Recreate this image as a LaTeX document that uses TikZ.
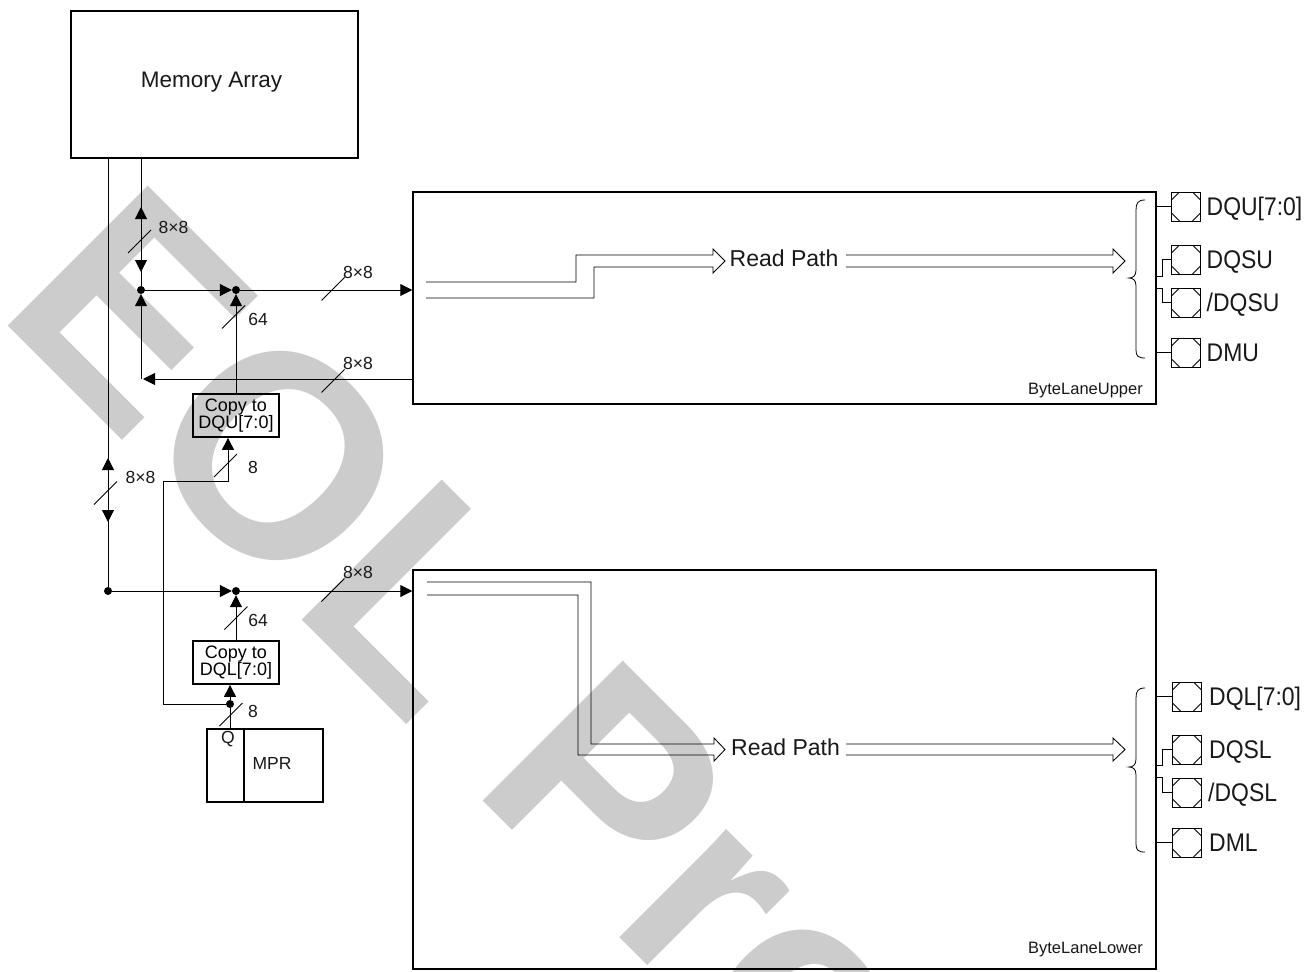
\documentclass[tikz,border=0pt]{standalone}
\usepackage{fontspec}
\setmainfont{Liberation Sans}
\newfontfamily\padfont{Liberation Sans}[FakeStretch=0.9]
\usetikzlibrary{arrows.meta}
\definecolor{wmgray}{RGB}{204,204,204}
\definecolor{ink}{RGB}{25,25,25}
\tikzset{
  box/.style={draw, line width=1.5pt, inner sep=0pt},
  cbox/.style={draw, line width=1.8pt, inner sep=0pt, minimum width=86pt, minimum height=43pt, align=center, font=\fontsize{18}{17.5}\selectfont},
  wire/.style={line width=1pt},
  thinw/.style={line width=0.9pt},
  tri/.style={line width=1pt, -{Triangle[length=12pt,width=12pt]}},
  slash/.style={line width=0.8pt},
  lbl/.style={inner sep=0pt, text=ink, font=\fontsize{17.5}{18}\selectfont},
  small/.style={inner sep=0pt, text=ink, font=\fontsize{16.5}{18}\selectfont},
  txt/.style={inner sep=0pt, text=ink, font=\fontsize{22.5}{24}\selectfont},
  rpt/.style={inner sep=0pt, text=ink, font=\fontsize{23}{24}\selectfont},
  padlbl/.style={inner sep=0pt, anchor=base west, text=ink, font=\padfont\fontsize{25.5}{26}\selectfont},
  rp/.style={line width=0.85pt},
  dot/.style={circle, fill, inner sep=0pt, minimum size=8pt},
  wm/.style={anchor=base west, inner sep=0pt, rotate=-45, text=wmgray, font=\fontsize{288}{300}\selectfont\bfseries},
  pad/.style={draw, line width=1pt, minimum width=29pt, minimum height=29pt, inner sep=0pt,
    path picture={\draw[line width=0.9pt]
      ([xshift=8pt]path picture bounding box.north west) -- ([yshift=-8pt]path picture bounding box.north west)
      ([xshift=-8pt]path picture bounding box.north east) -- ([yshift=-8pt]path picture bounding box.north east)
      ([xshift=8pt]path picture bounding box.south west) -- ([yshift=8pt]path picture bounding box.south west)
      ([xshift=-8pt]path picture bounding box.south east) -- ([yshift=8pt]path picture bounding box.south east);}},
}
\begin{document}
\begin{tikzpicture}[x=1pt,y=-1pt]
\useasboundingbox (0,0) rectangle (1308,971);
\clip (0,0) rectangle (1308,971);
\fill[white] (0,0) rectangle (1308,971);
% watermark
\node[wm] (wm) at (-6,312) {EOL Pro};

% boxes
\node[box, minimum width=287pt, minimum height=147pt] (ma) at (214.5,84.5) {};
\node[txt, anchor=base] (matxt) at (211.5,88) {Memory Array};
\node[box, minimum width=743pt, minimum height=212pt] (ublk) at (784.5,298) {};
\node[box, minimum width=743pt, minimum height=399pt] (lblk) at (784.5,769.5) {};
\node[small, anchor=base east] (ulab) at (1143,394) {ByteLaneUpper};
\node[small, anchor=base east] (llab) at (1143,953) {ByteLaneLower};
\node[cbox] (cu) at (236,415.5) {Copy to\\DQU[7:0]};
\node[cbox] (cl) at (236,662.5) {Copy to\\DQL[7:0]};
\node[box, line width=1.3pt, minimum width=116pt, minimum height=73pt] (mpr) at (265,765.5) {};
\draw[line width=1.1pt] ([xshift=-21pt]mpr.north) -- ([xshift=-21pt]mpr.south);
\node[lbl] (q) at (228,739) {Q};
\node[lbl] (mprt) at (272,763) {MPR};

% junctions
\node[dot] (j1) at (108,591) {};
\node[dot] (j2) at (141,290) {};
\node[dot] (j3) at (236,290) {};
\node[dot] (j4) at (236,591) {};
\node[dot] (j5) at (230,704) {};
\coordinate (rc) at (141,379);
\coordinate (k1) at (163,481);

% wires
\draw[wire] (ma.south -| j1) -- (j1);
\draw[tri] (108,490) -- (108,458);
\draw[tri] (108,490) -- (108,522);
\draw[wire] (ma.south -| j2) -- (j2);
\draw[tri] (141,240) -- (141,207);
\draw[tri] (141,240) -- (141,272);
\draw[tri] (j2) -- (j3);
\draw[tri] (j3) -- (ublk.west |- j3);
\draw[tri] (cu.north) -- (j3);
\draw[tri] (ublk.west |- rc) -- ([xshift=2pt]rc);
\draw[tri] (rc) -- (j2);
\draw[tri] (j1) -- (j4);
\draw[tri] (j4) -- (lblk.west |- j4);
\draw[tri] (cl.north) -- (j4);
\draw[wire] (mpr.north -| j5) -- (j5);
\draw[tri] (j5) -- (cl.south -| j5);
\draw[tri] (j5) -| (k1) -| ([xshift=-8pt]cu.south);

% bus slashes
\foreach \p in {(139.5,241.5),(333,289),(233.5,317),(333,381),(105.5,493),(225.5,465.5),(333,590),(236,618),(231,714.5)}
  \draw[slash] \p ++(-11.5,11.5) -- ++(23,-23);

% bus labels
\node[lbl] (b1) at (173.5,227) {8×8};
\node[lbl] (b2) at (358,272) {8×8};
\node[lbl] (b3) at (258,319) {64};
\node[lbl] (b4) at (358,363) {8×8};
\node[lbl] (b5) at (140.5,477) {8×8};
\node[lbl] (b6) at (253,467) {8};
\node[lbl] (b7) at (358,572) {8×8};
\node[lbl] (b8) at (258,620) {64};
\node[lbl] (b9) at (253,711) {8};

% read paths
\draw[rp] (426,282) -- (576,282) -- (576,255) -- (713,255) -- (713,249) -- (725,261) -- (713,273) -- (713,267) -- (594,267) -- (594,298) -- (426,298);
\node[rpt, anchor=base west] (rpu) at (729.5,266) {Read Path};
\draw[rp] (846,255) -- (1113,255) -- (1113,249) -- (1125,261) -- (1113,273) -- (1113,267) -- (846,267);

\draw[rp] (427,582) -- (591,582) -- (591,744) -- (714,744) -- (714,738) -- (725,749.5) -- (714,761) -- (714,755) -- (578,755) -- (578,595) -- (427,595);
\node[rpt, anchor=base west] (rpl) at (731,755) {Read Path};
\draw[rp] (846,744) -- (1113,744) -- (1113,738) -- (1125,749.5) -- (1113,761) -- (1113,755) -- (846,755);

% braces
\draw[line width=0.8pt] (1145,200) .. controls (1138,200) and (1136,203) .. (1136,210) -- (1136,270) .. controls (1136,276) and (1133,278) .. (1129,278) .. controls (1133,278) and (1136,280) .. (1136,286) -- (1136,350) .. controls (1136,356) and (1138,358) .. (1145,358);
\draw[line width=0.8pt] (1145,688) .. controls (1138,688) and (1136,691) .. (1136,698) -- (1136,759) .. controls (1136,765) and (1133,767) .. (1129,767) .. controls (1133,767) and (1136,769) .. (1136,775) -- (1136,844) .. controls (1136,850) and (1138,852) .. (1145,852);

% pads upper
\node[pad] (pu1) at (1186,206.5) {};
\node[pad] (pu2) at (1186,259.5) {};
\node[pad] (pu3) at (1186,302.5) {};
\node[pad] (pu4) at (1186,352.5) {};
\node[padlbl] (tu1) at (1206.5,215) {DQU[7:0]};
\node[padlbl] (tu2) at (1206.5,268) {DQSU};
\node[padlbl] (tu3) at (1206.5,311) {/DQSU};
\node[padlbl] (tu4) at (1206.5,361) {DMU};
\coordinate (su2) at (1162,276);
\coordinate (su3) at (1162,288);
\draw[thinw] (ublk.east |- pu1) -- (pu1);
\draw[thinw] (ublk.east |- su2) -- (su2) |- (pu2);
\draw[thinw] (ublk.east |- su3) -- (su3) |- (pu3);
\draw[thinw] (ublk.east |- pu4) -- (pu4);

% pads lower
\node[pad] (pl1) at (1187,696.5) {};
\node[pad] (pl2) at (1187,749.5) {};
\node[pad] (pl3) at (1187,792.5) {};
\node[pad] (pl4) at (1187,842.5) {};
\node[padlbl] (tl1) at (1209,705) {DQL[7:0]};
\node[padlbl] (tl2) at (1209,758) {DQSL};
\node[padlbl] (tl3) at (1208,801) {/DQSL};
\node[padlbl] (tl4) at (1209,851) {DML};
\coordinate (sl2) at (1162,765);
\coordinate (sl3) at (1162,777);
\draw[thinw] (lblk.east |- pl1) -- (pl1);
\draw[thinw] (lblk.east |- sl2) -- (sl2) |- (pl2);
\draw[thinw] (lblk.east |- sl3) -- (sl3) |- (pl3);
\draw[thinw] (lblk.east |- pl4) -- (pl4);
\end{tikzpicture}
\end{document}
